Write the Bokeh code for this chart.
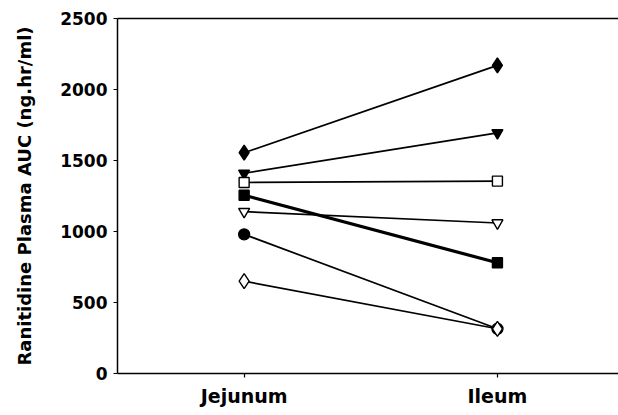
from bokeh.plotting import figure
from bokeh.models import FixedTicker, LinearAxis, Range1d
from bokeh.embed import file_html
from bokeh.resources import INLINE

sites = ["Jejunum", "Ileum"]
site_x = [1, 2]
y_ticks = [0, 500, 1000, 1500, 2000, 2500]

s_filled_diamond = [1555, 2170]
s_filled_triangle = [1410, 1695]
s_open_square = [1345, 1355]
s_filled_square = [1255, 780]
s_open_triangle = [1140, 1060]
s_filled_circle = [980, 315]
s_open_diamond = [650, 315]

FONT = "DejaVu Sans"

p = figure(width=618, height=410, output_backend="svg", toolbar_location=None,
           x_range=Range1d(0.5, 2.478), y_range=Range1d(0, 2500),
           min_border_left=117, min_border_right=0, min_border_top=18, min_border_bottom=37)
p.outline_line_color = None
p.grid.visible = False
p.background_fill_color = "white"

series = [
    (s_filled_diamond, "diamond", "black", 1.7, 15),
    (s_filled_triangle, "inverted_triangle", "black", 1.7, 11),
    (s_open_square, "square", "white", 1.7, 10),
    (s_filled_square, "square", "black", 3.2, 10),
    (s_open_triangle, "inverted_triangle", "white", 1.7, 11),
    (s_filled_circle, "circle", "black", 1.7, 11),
    (s_open_diamond, "diamond", "white", 1.7, 15),
]

for vals, mk, fill, lw, sz in series:
    p.line(site_x, vals, line_color="black", line_width=lw)
for vals, mk, fill, lw, sz in series:
    p.scatter(site_x, vals, marker=mk, size=sz, fill_color=fill, line_color="black", line_width=1.4)

# x axis
xa = p.xaxis[0]
xa.ticker = FixedTicker(ticks=site_x)
xa.major_label_overrides = {1: sites[0], 2: sites[1]}
xa.major_label_text_font = FONT
xa.major_label_text_font_style = "bold"
xa.major_label_text_font_size = "19px"
xa.major_label_text_color = "black"
xa.major_label_standoff = 7
xa.major_tick_in = 0
xa.major_tick_out = 4
xa.minor_tick_line_color = None
xa.axis_line_width = 1.5
xa.axis_line_color = "black"
xa.major_tick_line_width = 1.2
xa.major_tick_line_color = "black"

# y axis
ya = p.yaxis[0]
ya.ticker = FixedTicker(ticks=y_ticks)
ya.major_label_text_font = FONT
ya.major_label_text_font_style = "bold"
ya.major_label_text_font_size = "17px"
ya.major_label_text_color = "black"
ya.major_label_standoff = 6
ya.major_tick_in = 0
ya.major_tick_out = 4
ya.minor_tick_line_color = None
ya.axis_line_width = 1.5
ya.axis_line_color = "black"
ya.major_tick_line_color = "black"
ya.axis_label = "Ranitidine Plasma AUC (ng.hr/ml)"
ya.axis_label_text_font = FONT
ya.axis_label_text_font_style = "bold"
ya.axis_label_text_font_size = "18px"
ya.axis_label_text_color = "black"
ya.axis_label_standoff = 22

# top border line
top = LinearAxis(ticker=FixedTicker(ticks=[]), major_label_text_font_size="0px",
                 major_tick_line_color=None, minor_tick_line_color=None,
                 axis_line_width=1.5, axis_line_color="black")
p.add_layout(top, "above")

open("out.html", "w").write(file_html(p, INLINE))
